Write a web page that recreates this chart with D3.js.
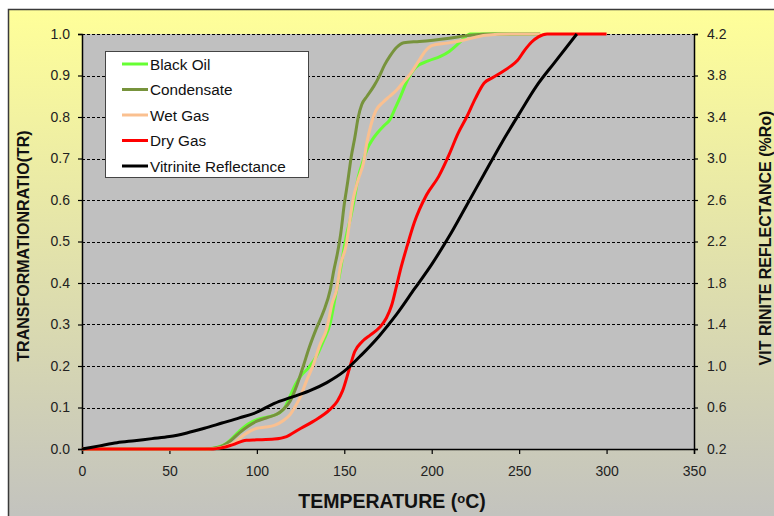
<!DOCTYPE html>
<html>
<head>
<meta charset="utf-8">
<script src="https://cdn.jsdelivr.net/npm/d3@7"></script>
<style>
  html, body { margin: 0; padding: 0; background: #ffffff; }
  svg { display: block; font-family: "Liberation Sans", Arial, sans-serif; }
</style>
</head>
<body>
<svg id="chart" width="774" height="516"></svg>
<script>
// Temperature axis ticks and the two vertical axis tick sets
const tempTicks = [0, 50, 100, 150, 200, 250, 300, 350];
const trTicks = [0.0, 0.1, 0.2, 0.3, 0.4, 0.5, 0.6, 0.7, 0.8, 0.9, 1.0];
const roTicks = [0.2, 0.6, 1.0, 1.4, 1.8, 2.2, 2.6, 3.0, 3.4, 3.8, 4.2];

// Black Oil transformation ratio vs temperature (°C)
const blackOilTemp = [0, 70, 75, 82, 90, 95, 100, 107, 113, 116, 119, 122, 125, 130, 134, 138, 142, 145, 147.5, 151, 154, 156, 158, 161, 163, 166, 169, 173, 176, 179, 182, 186, 191, 198, 205, 210, 214, 218, 222, 262];
const blackOilTR   = [0, 0, 0.002, 0.012, 0.043, 0.06, 0.071, 0.078, 0.087, 0.1, 0.127, 0.155, 0.175, 0.198, 0.223, 0.26, 0.304, 0.37, 0.425, 0.51, 0.565, 0.609, 0.655, 0.697, 0.722, 0.745, 0.762, 0.78, 0.793, 0.82, 0.848, 0.888, 0.92, 0.935, 0.946, 0.958, 0.972, 0.988, 1.0, 1.0];

// Condensate
const condensateTemp = [0, 70, 79, 85, 90, 95, 100, 106, 111, 115, 119, 123, 126.5, 130, 134, 138, 142, 144, 146, 148, 150, 152, 154, 156, 158, 160, 163, 167, 170, 173, 176, 180, 184, 193, 210, 222, 235, 262];
const condensateTR   = [0, 0, 0.005, 0.02, 0.039, 0.055, 0.067, 0.076, 0.083, 0.095, 0.115, 0.155, 0.199, 0.245, 0.29, 0.33, 0.384, 0.43, 0.47, 0.52, 0.59, 0.645, 0.705, 0.75, 0.8, 0.83, 0.85, 0.875, 0.898, 0.925, 0.946, 0.968, 0.979, 0.982, 0.99, 0.997, 1.0, 1.0];

// Wet Gas
const wetGasTemp = [0, 72, 80, 87, 93, 100, 105, 110, 115, 119, 122, 125, 128, 132, 136, 140, 143, 145.6, 148, 151, 153, 155, 158, 161, 163, 165, 168, 172, 176, 180, 184, 188, 193, 197, 200, 209, 218, 231, 245, 262];
const wetGasTR   = [0, 0, 0.004, 0.015, 0.035, 0.05, 0.053, 0.057, 0.068, 0.083, 0.103, 0.127, 0.16, 0.2, 0.25, 0.29, 0.35, 0.384, 0.445, 0.49, 0.545, 0.6, 0.65, 0.69, 0.74, 0.777, 0.815, 0.835, 0.85, 0.865, 0.885, 0.905, 0.938, 0.962, 0.972, 0.978, 0.985, 0.997, 1.0, 1.0];

// Dry Gas
const dryGasTemp = [0, 75, 80, 86, 94, 100, 110, 117, 124, 132, 142, 146, 149, 153, 156, 160, 165, 170, 174, 177, 180, 182, 186, 190, 197, 204, 210, 215, 220, 225, 230, 235, 240, 245, 249, 253, 257, 261, 266, 300];
const dryGasTR   = [0, 0, 0.003, 0.01, 0.021, 0.022, 0.024, 0.03, 0.047, 0.066, 0.096, 0.115, 0.14, 0.195, 0.235, 0.258, 0.275, 0.292, 0.315, 0.345, 0.395, 0.43, 0.49, 0.545, 0.612, 0.657, 0.71, 0.76, 0.8, 0.845, 0.882, 0.895, 0.908, 0.922, 0.936, 0.96, 0.98, 0.993, 1.0, 1.0];

// Vitrinite reflectance (%Ro) vs temperature, plotted on the right axis
const vrTemp = [0, 10, 20, 30, 40, 50, 60, 70, 80, 90, 100, 110, 120, 130, 140, 150, 160, 170, 180, 190, 200, 210, 220, 230, 240, 250, 260, 270, 283];
const vrRo   = [0.2, 0.23, 0.26, 0.28, 0.3, 0.32, 0.355, 0.4, 0.45, 0.5, 0.555, 0.64, 0.7, 0.76, 0.84, 0.95, 1.11, 1.29, 1.5, 1.74, 1.98, 2.25, 2.55, 2.85, 3.15, 3.43, 3.7, 3.92, 4.2];

const seriesNames = ["Black Oil", "Condensate", "Wet Gas", "Dry Gas", "Vitrinite Reflectance"];
const seriesColors = ["#66FF33", "#77933C", "#FAC090", "#FF0000", "#000000"];

const svg = d3.select("#chart");

// Chart area background with yellow-to-grey gradient
const defs = svg.append("defs");
const grad = defs.append("linearGradient").attr("id", "bg").attr("x1", 0).attr("y1", 0).attr("x2", 0).attr("y2", 1);
grad.append("stop").attr("offset", "0%").attr("stop-color", "#FFFF99");
grad.append("stop").attr("offset", "100%").attr("stop-color", "#C0C0C0");

svg.append("rect")
  .attr("x", 8.5).attr("y", 9.5).attr("width", 800).attr("height", 530)
  .attr("fill", "url(#bg)").attr("stroke", "#3a3a3a").attr("stroke-width", 1.5);

const plot = { left: 82, right: 694, top: 34, bottom: 449 };

const x = d3.scaleLinear().domain([0, 350]).range([plot.left, plot.right]);
const yL = d3.scaleLinear().domain([0, 1]).range([plot.bottom, plot.top]);
const yR = d3.scaleLinear().domain([0.2, 4.2]).range([plot.bottom, plot.top]);

// Plot area
svg.append("rect")
  .attr("x", plot.left).attr("y", plot.top)
  .attr("width", plot.right - plot.left).attr("height", plot.bottom - plot.top)
  .attr("fill", "#C0C0C0");

// Dashed horizontal gridlines
svg.append("g").selectAll("line")
  .data(trTicks.filter(d => d > 0))
  .join("line")
  .attr("x1", plot.left).attr("x2", plot.right)
  .attr("y1", d => Math.round(yL(d)) + 0.5).attr("y2", d => Math.round(yL(d)) + 0.5)
  .attr("stroke", "#000").attr("stroke-width", 1).attr("stroke-dasharray", "3,2");

// Axes
const fmt1 = d3.format(".1f");
const axisLeft = d3.axisLeft(yL).tickValues(trTicks).tickFormat(fmt1).tickSizeOuter(0).tickSize(4).tickPadding(8);
const axisRight = d3.axisRight(yR).tickValues(roTicks).tickFormat(fmt1).tickSizeOuter(0).tickSize(4).tickPadding(9);
const axisBottom = d3.axisBottom(x).tickValues(tempTicks).tickFormat(d3.format("d")).tickSizeOuter(0).tickSize(5).tickPadding(12);

function styleAxis(g) {
  g.select(".domain").attr("stroke", "#000").attr("stroke-width", 1.5);
  g.selectAll(".tick line").attr("stroke", "#000").attr("stroke-width", 1.2);
  g.selectAll(".tick text").attr("fill", "#222").style("font-size", "14px")
    .style("font-family", "'Liberation Sans', Arial, sans-serif");
}

svg.append("g").attr("transform", `translate(${plot.left},0)`).call(axisLeft).call(styleAxis);
svg.append("g").attr("transform", `translate(${plot.right},0)`).call(axisRight).call(styleAxis);
svg.append("g").attr("transform", `translate(0,${plot.bottom})`).call(axisBottom).call(styleAxis);

// Series lines
const lineTR = d3.line().x(d => x(d[0])).y(d => yL(d[1])).curve(d3.curveMonotoneX);
const lineRo = d3.line().x(d => x(d[0])).y(d => yR(d[1])).curve(d3.curveMonotoneX);

const trSeries = [
  [blackOilTemp, blackOilTR],
  [condensateTemp, condensateTR],
  [wetGasTemp, wetGasTR],
  [dryGasTemp, dryGasTR]
];

const lines = svg.append("g");
trSeries.forEach(([t, v], i) => {
  lines.append("path")
    .datum(d3.zip(t, v))
    .attr("d", lineTR)
    .attr("fill", "none")
    .attr("stroke", seriesColors[i])
    .attr("stroke-width", 3)
    .attr("stroke-linejoin", "round");
});
lines.append("path")
  .datum(d3.zip(vrTemp, vrRo))
  .attr("d", lineRo)
  .attr("fill", "none")
  .attr("stroke", seriesColors[4])
  .attr("stroke-width", 3)
  .attr("stroke-linejoin", "round");

// Legend
const legend = svg.append("g");
legend.append("rect")
  .attr("x", 105.5).attr("y", 51.5).attr("width", 203).attr("height", 126)
  .attr("fill", "#fff").attr("stroke", "#444").attr("stroke-width", 1);
seriesNames.forEach((name, i) => {
  const cy = 64 + i * 25.5;
  legend.append("line")
    .attr("x1", 122).attr("x2", 148).attr("y1", cy).attr("y2", cy)
    .attr("stroke", seriesColors[i]).attr("stroke-width", 3);
  legend.append("text")
    .attr("x", 150).attr("y", cy).attr("dy", "0.36em")
    .style("font-size", "15.3px").attr("fill", "#111")
    .text(name);
});

// Axis titles
svg.append("text")
  .attr("x", 392).attr("y", 508)
  .attr("text-anchor", "middle")
  .style("font-size", "19.5px").style("font-weight", "bold").attr("fill", "#111")
  .call(t => {
    t.append("tspan").text("TEMPERATURE  (");
    t.append("tspan").attr("dy", "-5").style("font-size", "13px").text("o");
    t.append("tspan").attr("dy", "5").text("C)");
  });

svg.append("text")
  .attr("transform", "translate(29,246) rotate(-90)")
  .attr("text-anchor", "middle")
  .style("font-size", "16px").style("font-weight", "bold").attr("fill", "#111")
  .text("TRANSFORMATIONRATIO(TR)");

svg.append("text")
  .attr("transform", "translate(771,238) rotate(-90)")
  .attr("text-anchor", "middle")
  .style("font-size", "16px").style("font-weight", "bold").attr("fill", "#111")
  .text("VIT RINITE REFLECTANCE (%Ro)");
</script>
</body>
</html>
